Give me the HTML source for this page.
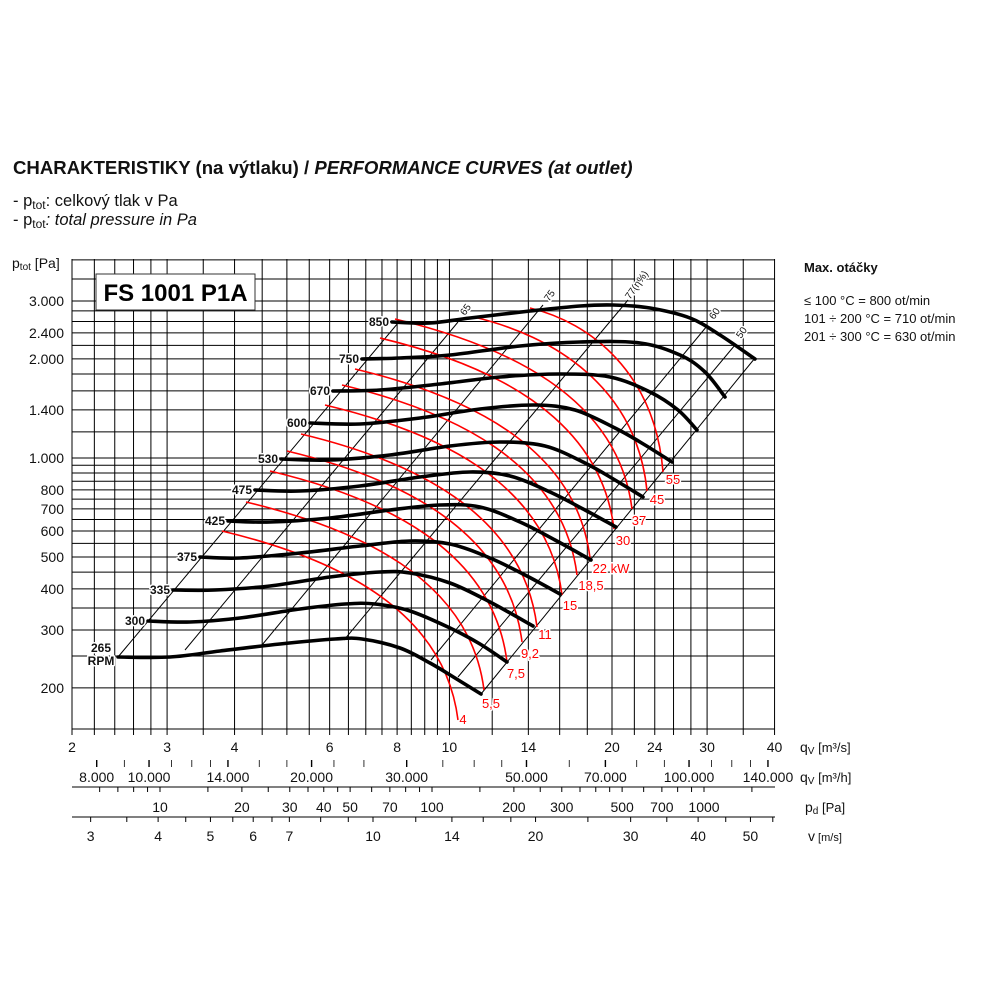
<!DOCTYPE html>
<html><head><meta charset="utf-8"><style>
html,body{margin:0;padding:0;background:#fff;}
svg{display:block;font-family:"Liberation Sans",sans-serif;}
</style></head><body>
<svg id="s" width="1000" height="1000" viewBox="0 0 1000 1000" xmlns="http://www.w3.org/2000/svg">
<rect width="1000" height="1000" fill="#fff"/>
<text x="13" y="174" font-size="18.6" font-weight="bold" fill="#111">CHARAKTERISTIKY (na výtlaku) / <tspan font-style="italic">PERFORMANCE CURVES (at outlet)</tspan></text>
<text x="13" y="206" font-size="16.5" fill="#111">- p<tspan font-size="12" dy="3">tot</tspan><tspan dy="-3">: celkový tlak v Pa</tspan></text>
<text x="13" y="225" font-size="16.5" fill="#111">- p<tspan font-size="12" dy="3">tot</tspan><tspan dy="-3" font-style="italic">: total pressure in Pa</tspan></text>
<text x="12" y="268" font-size="14" fill="#111">p<tspan font-size="10" dy="2">tot</tspan><tspan dy="-2"> [Pa]</tspan></text>
<g id="grid" stroke="#000" stroke-width="1"></g>
<g id="diag" stroke="#000" stroke-width="1" fill="none"></g>
<g id="red" stroke="#f00" stroke-width="1.6" fill="none"></g>
<g id="blk" stroke="#000" stroke-width="3.6" fill="none" stroke-linecap="round"></g>
<g id="txt" fill="#111"></g>
<rect x="96" y="274" width="159" height="36" fill="#fff" stroke="#333" stroke-width="1"/>
<text x="175.5" y="301" font-size="24" font-weight="bold" text-anchor="middle" fill="#000">FS 1001 P1A</text>
<text x="804" y="272" font-size="13" font-weight="bold" fill="#111">Max. otáčky</text>
<text x="804" y="305" font-size="13" fill="#111">≤ 100 °C = 800 ot/min</text>
<text x="804" y="323" font-size="13" fill="#111">101 ÷ 200 °C = 710 ot/min</text>
<text x="804" y="341" font-size="13" fill="#111">201 ÷ 300 °C = 630 ot/min</text>
<text x="800" y="752" font-size="14" fill="#111">q<tspan font-size="10" dy="2">V</tspan><tspan dy="-2" font-size="13"> [m³/s]</tspan></text>
<text x="800" y="782" font-size="14" fill="#111">q<tspan font-size="10" dy="2">V</tspan><tspan dy="-2" font-size="13"> [m³/h]</tspan></text>
<text x="805" y="812" font-size="14" fill="#111">p<tspan font-size="10" dy="2">d</tspan><tspan dy="-2" font-size="13"> [Pa]</tspan></text>
<text x="808" y="841" font-size="14" fill="#111">v<tspan font-size="11"> [m/s]</tspan></text>
</svg>
<script>
var NS="http://www.w3.org/2000/svg";
function el(p,t,a,txt){var e=document.createElementNS(NS,t);for(var k in a)e.setAttribute(k,a[k]);if(txt!=null)e.textContent=txt;document.getElementById(p).appendChild(e);return e;}
function X(q){return 72+540*Math.log10(q/2);}
function Y(p){return 301+329*Math.log10(3000/p);}
var L=72,R=775,T=259,B=730;
var vx=[2,2.2,2.4,2.6,2.8,3,3.5,4,4.5,5,5.5,6,6.5,7,7.5,8,8.5,9,9.5,10,12,14,16,18,20,22,24,26,28,30,35,40];
vx.forEach(function(q){var x=X(q);if(x>R)x=R;el("grid","line",{x1:x,x2:x,y1:T,y2:B});});
var hy=[150,200,250,300,350,400,450,500,550,600,650,700,750,800,850,900,950,1000,1200,1400,1600,1800,2000,2200,2400,2600,2800,3000,3500,4000];
hy.forEach(function(p){var y=Y(p);if(y<T)y=T;if(y>B)y=B;el("grid","line",{x1:L,x2:R,y1:y,y2:y});});
el("grid","line",{x1:L,x2:R,y1:787,y2:787});
el("grid","line",{x1:L,x2:R,y1:817,y2:817});
vx.forEach(function(q){var x=X(q);el("grid","line",{x1:x,x2:x,y1:B,y2:B+5});});
[8,9,10,11,12,13,14,16,18,20,22,25,30,35,40,45,50,60,70,80,90,100,110,120,130,140].forEach(function(k){var x=X(k*1000/3600);if(x<=R+1)el("grid","line",{x1:x,x2:x,y1:760,y2:767,"stroke-width":(k==8||k==10||k==14||k==20||k==30||k==50||k==70||k==100||k==140)?1.4:0.8});});
function PD(p){return 160+272*Math.log10(p/10);}
[6,7,8,9,10,15,20,25,30,35,40,45,50,60,70,80,90,100,150,200,250,300,350,400,450,500,600,700,800,900,1000,1500,2000].forEach(function(p){var x=PD(p);if(x>=L&&x<=R)el("grid","line",{x1:x,x2:x,y1:787,y2:792});});
function V(v){return 373+540*Math.log10(v/10);}
[3,3.5,4,4.5,5,5.5,6,6.5,7,8,9,10,12,14,16,18,20,25,30,35,40,45,50,55].forEach(function(v){var x=V(v);if(x>=L&&x<=R+1)el("grid","line",{x1:x,x2:x,y1:817,y2:822});});
function tx(x,y,s,o){var a={x:x,y:y,"font-size":14,"text-anchor":"middle"};for(var k in o)a[k]=o[k];return el("txt","text",a,s);}
[[2,"2"],[3,"3"],[4,"4"],[6,"6"],[8,"8"],[10,"10"],[14,"14"],[20,"20"],[24,"24"],[30,"30"],[40,"40"]].forEach(function(a){tx(X(a[0]),752,a[1]);});
[[8,"8.000"],[10,"10.000"],[14,"14.000"],[20,"20.000"],[30,"30.000"],[50,"50.000"],[70,"70.000"],[100,"100.000"],[140,"140.000"]].forEach(function(a){tx(X(a[0]*1000/3600),782,a[1]);});
[10,20,30,40,50,70,100,200,300,500,700,1000].forEach(function(p){tx(PD(p),812,""+p);});
[3,4,5,6,7,10,14,20,30,40,50].forEach(function(v){tx(V(v),841,""+v);});
[[3000,"3.000"],[2400,"2.400"],[2000,"2.000"],[1400,"1.400"],[1000,"1.000"],[800,"800"],[700,"700"],[600,"600"],[500,"500"],[400,"400"],[300,"300"],[200,"200"]].forEach(function(a){tx(64,Y(a[0])+5,a[1],{"text-anchor":"end"});});
function line(p,a,b){el(p,"line",{x1:a[0],y1:a[1],x2:b[0],y2:b[1]});}
line("diag",[118,657],[398,323]);
line("diag",[481,694],[755,358]);
[[[458,322],[185,650]],[[543,305],[262,645]],[[628,300],[344,640]],[[707,326],[431,660]],[[735,345],[458,677]]].forEach(function(s){line("diag",s[0],s[1]);});
function cr(pts){var d="M"+pts[0][0]+","+pts[0][1];for(var i=0;i<pts.length-1;i++){var p0=pts[i-1]||pts[i],p1=pts[i],p2=pts[i+1],p3=pts[i+2]||p2;var c1=[p1[0]+(p2[0]-p0[0])/6,p1[1]+(p2[1]-p0[1])/6],c2=[p2[0]-(p3[0]-p1[0])/6,p2[1]-(p3[1]-p1[1])/6];d+=" C"+c1[0].toFixed(1)+","+c1[1].toFixed(1)+" "+c2[0].toFixed(1)+","+c2[1].toFixed(1)+" "+p2[0]+","+p2[1];}return d;}
var reds=[[[222,531],[458,720]],[[246,502],[484,690]],[[270,471],[507,662]],[[287,451],[522,642]],[[301,434],[537,627]],[[325,405],[562,595]],[[342,385],[577,575]],[[355,369],[590,558]],[[380,338],[614,529]],[[395,319],[632,509]],[[474,317],[647,491]],[[530,308],[663,472]]];
reds.forEach(function(r){var S=r[0],E=r[1],dx=E[0]-S[0],dy=E[1]-S[1];var d="M"+S[0]+","+S[1]+" C"+(S[0]+0.46*dx)+","+(S[1]+0.11*dx)+" "+(E[0]-0.06*dx)+","+(E[1]-0.6*dy)+" "+E[0]+","+E[1];el("red","path",{d:d});});
var blk=[
[[392,322],[430,323],[470,318],[530,311],[580,306],[613,305],[650,308],[690,318],[720,335],[755,359]],
[[362,359],[400,358],[450,355],[520,346],[580,342],[640,343],[680,355],[705,372],[725,397]],
[[333,391],[380,390],[440,384],[500,377],[560,374],[610,377],[650,392],[678,410],[697,430]],
[[310,423],[360,424],[420,418],[480,409],[535,405],[575,410],[615,428],[645,445],[672,462]],
[[281,459],[330,460],[390,455],[450,446],[500,442],[545,446],[585,463],[615,480],[643,497]],
[[255,490],[300,491],[360,486],[420,477],[470,472],[510,476],[550,492],[585,510],[616,527]],
[[228,521],[270,522],[330,518],[390,510],[440,505],[480,507],[520,522],[555,540],[591,560]],
[[200,557],[240,558],[300,553],[360,546],[410,541],[450,544],[490,558],[525,575],[560,594]],
[[173,590],[215,590],[270,586],[330,577],[380,572],[410,573],[450,583],[490,602],[533,626]],
[[148,621],[190,622],[240,618],[300,609],[345,604],[375,604],[410,611],[450,628],[480,644],[507,662]],
[[118,657],[170,657],[220,651],[280,644],[335,639],[362,639],[400,648],[430,663],[455,678],[481,694]]];
blk.forEach(function(p){el("blk","path",{d:cr(p)});});
var halo={stroke:"#fff","stroke-width":3,"paint-order":"stroke","stroke-linejoin":"round"};
function h(o){var r={};for(var k in halo)r[k]=halo[k];for(var k in o)r[k]=o[k];return r;}
[["850",392,322],["750",362,359],["670",333,391],["600",310,423],["530",281,459],["475",255,490],["425",228,521],["375",200,557],["335",173,590],["300",148,621]].forEach(function(a){tx(a[1]-3,a[2]+4,a[0],h({"text-anchor":"end","font-size":12,"font-weight":"bold"}));});
tx(101,652,"265",h({"font-size":12,"font-weight":"bold"}));tx(101,665,"RPM",h({"font-size":12,"font-weight":"bold"}));
[["4",463,724],["5,5",491,708],["7,5",516,678],["9,2",530,658],["11",545,639],["15",570,610],["18,5",591,590],["22 kW",611,573],["30",623,545],["37",639,525],["45",657,504],["55",673,484]].forEach(function(a){tx(a[1],a[2],a[0],h({"font-size":13,fill:"#f00"}));});
[["65",465,316],["75",549,302],["77(η%)",630,300],["60",714,320],["50",741,339]].forEach(function(a){tx(a[1],a[2],a[0],h({"font-size":10,"text-anchor":"start",transform:"rotate(-55 "+a[1]+" "+a[2]+")"}));});
</script>
</body></html>
